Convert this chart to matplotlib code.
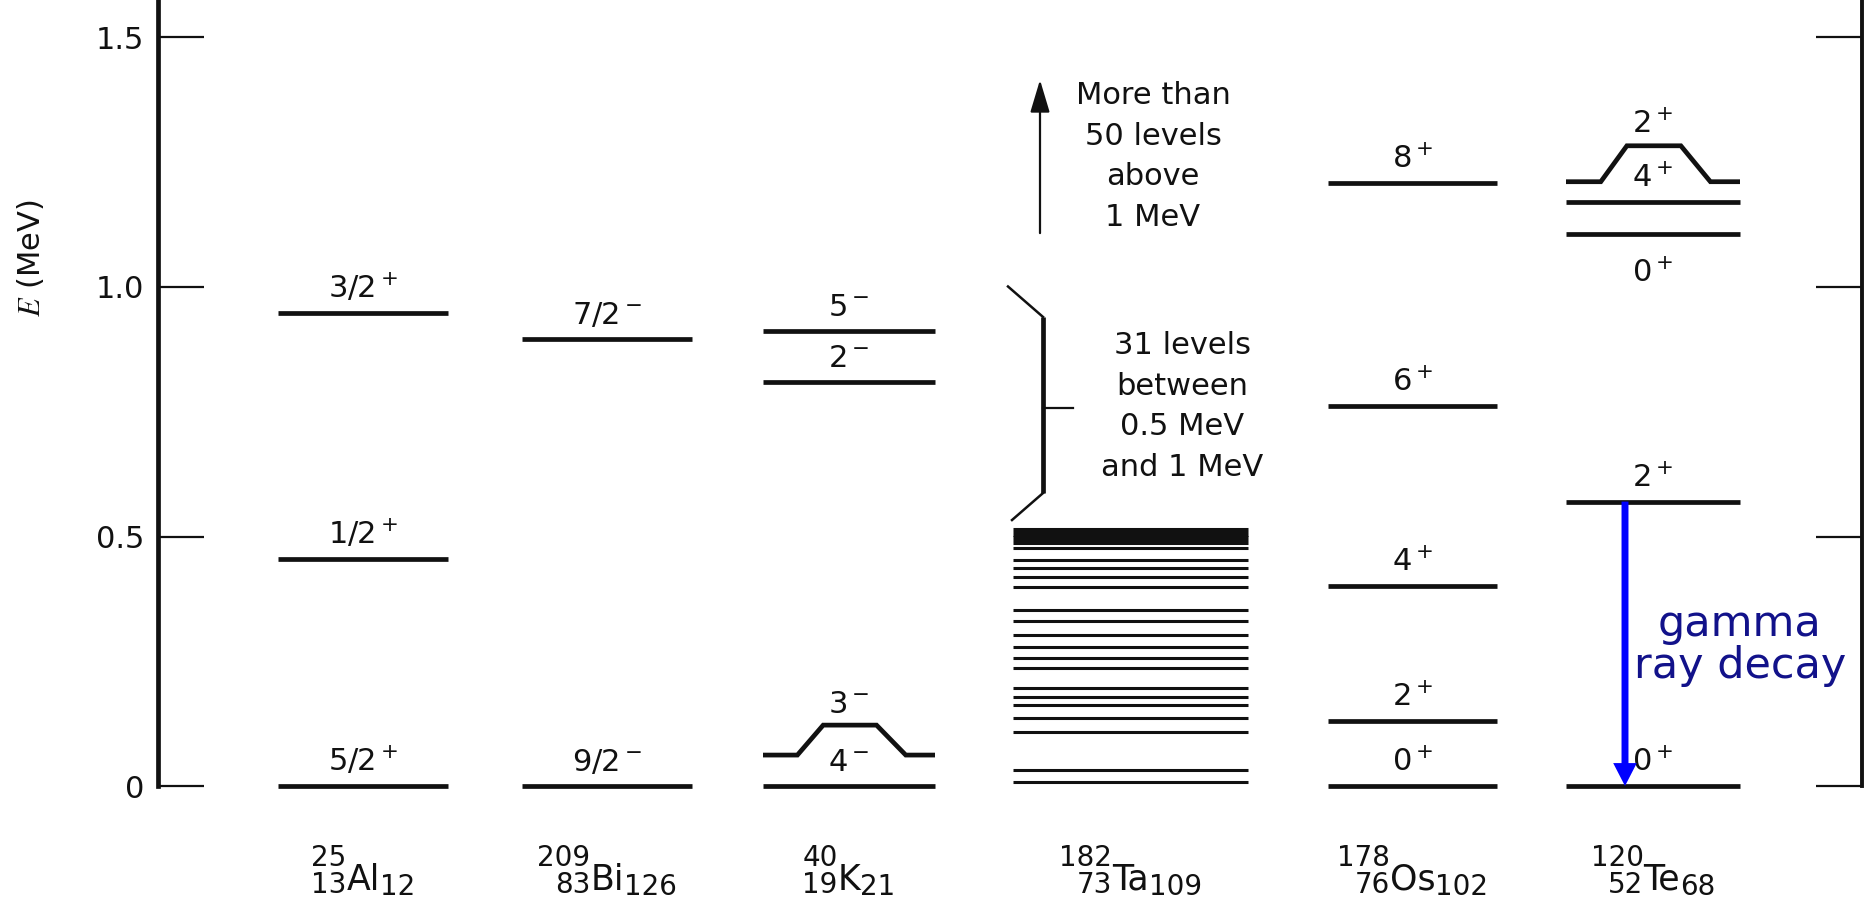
import matplotlib
matplotlib.use("Agg")
import matplotlib.pyplot as plt
from matplotlib.patches import FancyArrowPatch

plt.rcParams["font.family"] = ["DejaVu Sans"]
plt.rcParams["mathtext.fontset"] = "dejavusans"

# ---------------- level data (MeV) ----------------
al_E = [0.0, 0.455, 0.947]
al_J = ["5/2$^+$", "1/2$^+$", "3/2$^+$"]

bi_E = [0.0, 0.895]
bi_J = ["9/2$^-$", "7/2$^-$"]

k_E = [0.0, 0.062, 0.810, 0.912]
k_J = ["4$^-$", "3$^-$", "2$^-$", "5$^-$"]

ta_E = [0.009, 0.032, 0.109, 0.136, 0.162, 0.179, 0.196, 0.236, 0.256,
        0.279, 0.303, 0.331, 0.353, 0.399, 0.419, 0.436, 0.453, 0.476,
        0.486, 0.492, 0.498, 0.504, 0.510, 0.515]

os_E = [0.0, 0.131, 0.400, 0.762, 1.208]
os_J = ["0$^+$", "2$^+$", "4$^+$", "6$^+$", "8$^+$"]

te_E = [0.0, 0.570, 1.106, 1.171, 1.211]
te_J = ["0$^+$", "2$^+$", "0$^+$", "4$^+$", "2$^+$"]

# nuclide names: (mass number, atomic number, symbol, neutron number)
nuclides = [("25", "13", "Al", "12"), ("209", "83", "Bi", "126"),
            ("40", "19", "K", "21"), ("182", "73", "Ta", "109"),
            ("178", "76", "Os", "102"), ("120", "52", "Te", "68")]

y_ticks = [0.0, 0.5, 1.0, 1.5]
y_tick_labels = ["0", "0.5", "1.0", "1.5"]

ta_upper_note = "More than\n50 levels\nabove\n1 MeV"
ta_band_note = "31 levels\nbetween\n0.5 MeV\nand 1 MeV"
gamma_note = "gamma\nray decay"
gamma_from, gamma_to = 1, 0          # indices into te_E

# ---------------- figure / axes ----------------
W, H, DPI = 1864, 898, 100
PX_PER_MEV = 499.0
Y0 = 786                               # pixel row of E = 0
fig = plt.figure(figsize=(W / DPI, H / DPI), dpi=DPI)
fig.patch.set_facecolor("white")
ax = fig.add_axes([158 / W, (H - Y0) / H, (1862 - 158) / W, Y0 / H])
ax.set_xlim(158, 1862)
ax.set_ylim(0, Y0 / PX_PER_MEV)
ax.set_facecolor("none")

INK = "#111111"
for side in ("top", "bottom"):
    ax.spines[side].set_visible(False)
ax.spines["left"].set_linewidth(3.4)
ax.spines["right"].set_linewidth(2.8)
ax.spines["left"].set_color(INK)
ax.spines["right"].set_color(INK)
ax.set_xticks([])
ax.set_yticks(y_ticks)
ax.set_yticklabels(y_tick_labels)
ax.tick_params(axis="y", left=True, right=True, direction="in", length=33,
               width=1.6, color=INK, labelsize=22, pad=10, labelcolor=INK)


def py(row):
    """Energy coordinate of a pixel row (counted from the top)."""
    return (Y0 - row) / PX_PER_MEV


# column extents (x in pixels)
cols = {"Al": (278, 448), "Bi": (522, 692), "K": (763, 935),
        "Ta": (1013, 1248), "Os": (1328, 1497), "Te": (1566, 1740)}

LW = 3.4
LABEL_FS = 22
LABEL_OFF = 0.030
BUMP_FR = [0.0, 0.20, 0.35, 0.66, 0.83, 1.0]


def levels(name, energies, spins, bumps=None, below=()):
    x0, x1 = cols[name]
    xc = 0.5 * (x0 + x1)
    bumps = bumps or {}
    for i, (e, j) in enumerate(zip(energies, spins)):
        if i in bumps:
            rise = bumps[i]
            xs = [x0 + f * (x1 - x0) for f in BUMP_FR]
            ys = [e, e, e + rise, e + rise, e, e]
            ax.plot(xs, ys, color=INK, lw=LW, solid_joinstyle="miter",
                    solid_capstyle="butt", clip_on=False)
            ylab = e + rise + 0.025
        else:
            ax.hlines(e, x0, x1, color=INK, lw=LW, capstyle="butt",
                      clip_on=False)
            ylab = e + LABEL_OFF
        if i in below:
            ylab = e - 0.096
        ax.text(xc, ylab, j, ha="center", va="baseline", fontsize=LABEL_FS,
                color=INK)


levels("Al", al_E, al_J)
levels("Bi", bi_E, bi_J)
levels("K", k_E, k_J, bumps={1: 0.060})
levels("Os", os_E, os_J)
levels("Te", te_E, te_J, bumps={4: 0.072}, below=(2,))

# Ta: dense level scheme without labels
x0, x1 = cols["Ta"]
ax.hlines(ta_E, x0, x1, color=INK, lw=2.2, capstyle="butt", clip_on=False)

# bracket around 0.5 - 1 MeV
ax.plot([1043, 1043], [0.587, 0.940], color=INK, lw=3.4, solid_capstyle="butt")
ax.plot([1012, 1043], [0.533, 0.587], color=INK, lw=1.8)
ax.plot([1043, 1008], [0.940, 1.001], color=INK, lw=1.8)
ax.plot([1043, 1073], [0.757, 0.757], color=INK, lw=1.6)
ax.text(1182, 0.761, ta_band_note, ha="center", va="center",
        multialignment="center", fontsize=22, linespacing=1.5, color=INK)

# arrow pointing to the levels above 1 MeV
ax.add_patch(FancyArrowPatch((1040, 1.108), (1040, 1.415),
                             arrowstyle="-|>,head_length=2.0,head_width=0.6",
                             mutation_scale=10, lw=1.6, color=INK,
                             shrinkA=0, shrinkB=0))
ax.text(1153, 1.262, ta_upper_note, ha="center", va="center",
        multialignment="center", fontsize=22, linespacing=1.5, color=INK)

# gamma transition in Te
ax.add_patch(FancyArrowPatch((1625, te_E[gamma_from]), (1625, te_E[gamma_to]),
                             arrowstyle="simple,head_length=1.65,head_width=1.7,tail_width=0.5",
                             mutation_scale=10, lw=0, color="#0000ff",
                             shrinkA=0, shrinkB=0, zorder=5))
ax.text(1740, py(645), gamma_note, ha="center", va="center",
        multialignment="center", fontsize=31, linespacing=1.0,
        color="#12128a")

# axis title
ax.text(30, py(258), "$E$ (MeV)", rotation=90, ha="center",
        va="center", fontsize=22, color=INK, math_fontfamily="stix",
        clip_on=False)

# nuclide names under each column
renderer = fig.canvas.get_renderer()


def width_px(s, fs):
    t = fig.text(0, 0, s, fontsize=fs)
    w = t.get_window_extent(renderer).width
    t.remove()
    return w


SYM_FS, SCR_FS = 25, 20
for (mass, z, sym, n), name in zip(nuclides, cols):
    xc = 0.5 * sum(cols[name])
    pre = max(width_px(mass, SCR_FS), width_px(z, SCR_FS))
    sw = width_px(sym, SYM_FS)
    nw = width_px(n, SCR_FS)
    left = xc - 0.5 * (pre + sw + nw)
    xs = left + pre
    kw = dict(va="baseline", color=INK, clip_on=False)
    ax.text(xs, py(866), mass, ha="right", fontsize=SCR_FS, **kw)
    ax.text(xs, py(893), z, ha="right", fontsize=SCR_FS, **kw)
    ax.text(xs, py(890), sym, ha="left", fontsize=SYM_FS, **kw)
    ax.text(xs + sw, py(895), n, ha="left", fontsize=SCR_FS, **kw)

fig.savefig("out.png", dpi=DPI, facecolor="white")
